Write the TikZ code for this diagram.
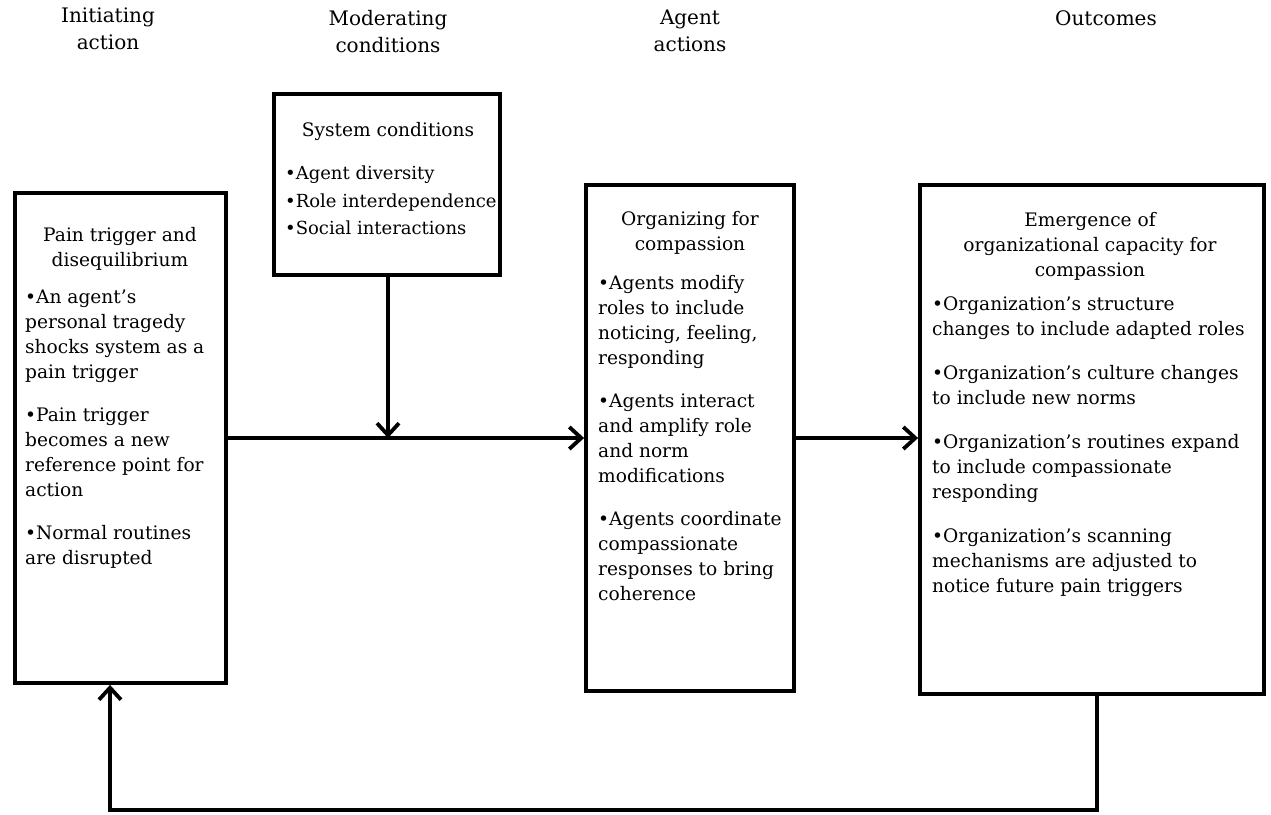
\documentclass[tikz,border=0pt]{standalone}
\usepackage{fontspec}
\setmainfont{DejaVu Serif}
\usetikzlibrary{arrows.meta}
\tikzset{
  box/.style={draw, line width=3.8pt, rectangle, inner sep=0pt},
  conn/.style={line width=3.8pt, -{Straight Barb[length=12pt,width=22pt]}},
  txt/.style={inner sep=0pt, font=\fontsize{18.6}{25}\selectfont},
  title/.style={txt, align=center, anchor=north},
  blist/.style={txt, align=left, anchor=north west},
  head/.style={inner sep=0pt, font=\fontsize{20}{27}\selectfont, align=center, anchor=north},
}
\begin{document}
\begin{tikzpicture}[x=1pt,y=-1pt]
\useasboundingbox (0,0) rectangle (1271,814);
% headers
\node[head] (h1) at (108,8) {Initiating\\action};
\node[head] (h2) at (388,10) {Moderating\\conditions};
\node[head] (h3) at (690,10) {Agent\\actions};
\node[head] (h4) at (1106,10) {Outcomes};
% boxes
\node[box, minimum width=211pt, minimum height=490pt] (b1) at (120.5,438) {};
\node[box, minimum width=226pt, minimum height=181pt] (b2) at (387,184.5) {};
\node[box, minimum width=208pt, minimum height=506pt] (b3) at (690,438) {};
\node[box, minimum width=344pt, minimum height=509pt] (b4) at (1092,439.5) {};
% box 1 text
\node[title] (t1) at (120,227) {Pain trigger and\\disequilibrium};
\node[blist] (l1) at (25,290) {\textbullet An agent's\\personal tragedy\\shocks system as a\\pain trigger\\[18pt]\textbullet Pain trigger\\becomes a new\\reference point for\\action\\[18pt]\textbullet Normal routines\\are disrupted};
% box 2 text
\node[title] (t2) at (388,122) {System conditions};
\node[blist, font=\fontsize{18}{27.5}\selectfont] (l2) at (285,166) {\textbullet Agent diversity\\\textbullet Role interdependence\\\textbullet Social interactions};
% box 3 text
\node[title] (t3) at (690,211) {Organizing for\\compassion};
\node[blist] (l3) at (598,275) {\textbullet Agents modify\\roles to include\\noticing, feeling,\\responding\\[18pt]\textbullet Agents interact\\and amplify role\\and norm\\modifications\\[18pt]\textbullet Agents coordinate\\compassionate\\responses to bring\\coherence};
% box 4 text
\node[title] (t4) at (1090,212) {Emergence of\\organizational capacity for\\compassion};
\node[blist] (l4) at (932,296) {\textbullet Organization's structure\\changes to include adapted roles\\[19pt]\textbullet Organization's culture changes\\to include new norms\\[19pt]\textbullet Organization's routines expand\\to include compassionate\\responding\\[19pt]\textbullet Organization's scanning\\mechanisms are adjusted to\\notice future pain triggers};
% connectors
\coordinate (m) at (388,437);
\draw[conn] (b1.east) -- (b3.west);
\draw[conn] (b2.south -| m) -- (m |- b1.east);
\draw[conn] (b3.east) -- (b3.east -| b4.west);
\coordinate (f1) at (1097,810);
\coordinate (f2) at (110,810);
\draw[conn] (b4.south -| f1) -- (f1) -- (f2) -- (f2 |- b1.south);
\end{tikzpicture}
\end{document}
